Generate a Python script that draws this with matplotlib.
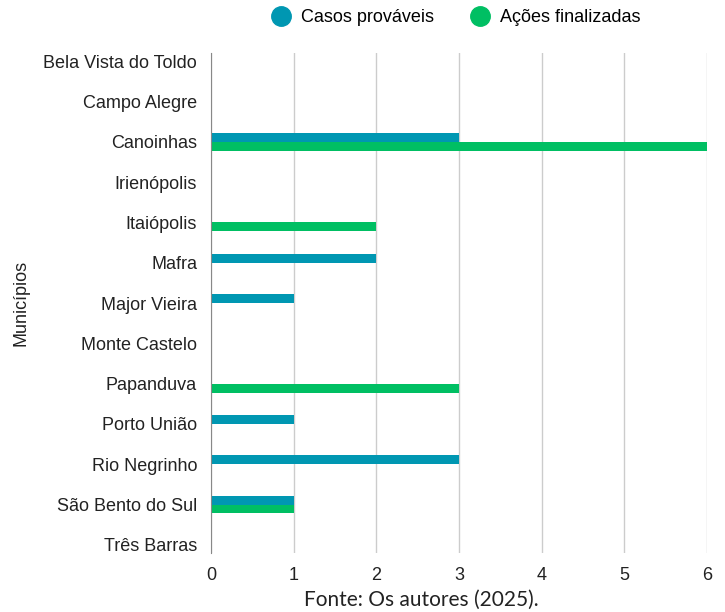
import numpy as np
import matplotlib
matplotlib.use("Agg")
import matplotlib.pyplot as plt
from matplotlib.lines import Line2D

# ─── Data ────────────────────────────────────────────────────────────────────

municipios = [
    "Bela Vista do Toldo", "Campo Alegre", "Canoinhas", "Irienópolis",
    "Itaiópolis", "Mafra", "Major Vieira", "Monte Castelo", "Papanduva",
    "Porto União", "Rio Negrinho", "São Bento do Sul", "Três Barras",
]
casos_provaveis = [0, 0, 3, 0, 0, 2, 1, 0, 0, 1, 3, 1, 0]
acoes_finalizadas = [0, 0, 6, 0, 2, 0, 0, 0, 3, 0, 0, 1, 0]

TEAL = "#0097b2"
GREEN = "#00bf63"

plt.rcParams["font.family"] = ["Liberation Sans", "DejaVu Sans"]

fig = plt.figure(figsize=(7.25, 6.12), dpi=100)
ax = fig.add_axes([211 / 725, 1 - 553 / 612, (707 - 211) / 725, 500 / 612])

y = np.arange(len(municipios))
h = 0.22
ax.barh(y - h / 2, casos_provaveis, height=h, color=TEAL, zorder=3)
ax.barh(y + h / 2, acoes_finalizadas, height=h, color=GREEN, zorder=3)

ax.set_xlim(0, 6)
ax.set_ylim(12.2, -0.2)
ax.set_xticks(range(7))
ax.set_yticks(y)
ax.set_yticklabels(municipios)
ax.tick_params(axis="both", length=0, labelsize=13, colors="#222222")
ax.tick_params(axis="x", pad=10)
ax.tick_params(axis="y", pad=10)
ax.grid(True, axis="x", color="#cccccc", lw=1, zorder=0)

for side in ["top", "right", "bottom"]:
    ax.spines[side].set_visible(False)
ax.spines["left"].set_color("#888888")
ax.spines["left"].set_zorder(4)

ax.set_ylabel("Municípios", fontsize=13, color="#222222")
ax.yaxis.set_label_coords(-0.365, 0.5)

handles = [
    Line2D([], [], marker="o", ls="", ms=14, color=TEAL),
    Line2D([], [], marker="o", ls="", ms=14, color=GREEN),
]
fig.legend(handles, ["Casos prováveis", "Ações finalizadas"],
           loc="center", bbox_to_anchor=(452 / 725, 1 - 18 / 612),
           ncol=2, frameon=False, fontsize=13, handletextpad=0.1,
           columnspacing=1.55)

fig.text(421 / 725, 1 - 600 / 612, "Fonte: Os autores (2025).",
         ha="center", va="center", fontsize=15, family="Lato", color="#222222")

fig.savefig("out.png", dpi=100, facecolor="white")
